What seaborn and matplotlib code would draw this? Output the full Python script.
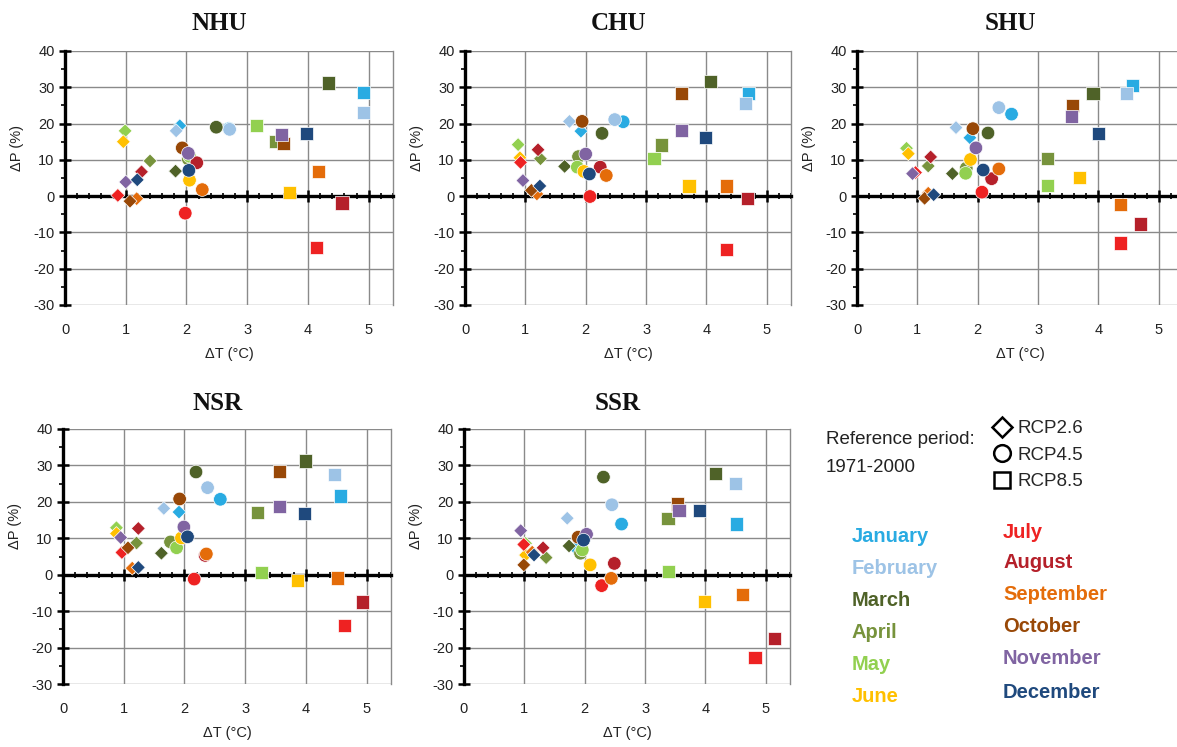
import matplotlib
matplotlib.use("Agg")
import matplotlib.pyplot as plt
import matplotlib.ticker as mticker
from matplotlib.lines import Line2D
import seaborn as sns
import pandas as pd

# ---------------- data ----------------
months = ["January", "February", "March", "April", "May", "June",
          "July", "August", "September", "October", "November", "December"]
month_colors = ["#29ABE2", "#9DC3E6", "#4F6228", "#77933C", "#92D050", "#FFC000",
                "#EE2222", "#B5202A", "#E46C0A", "#984807", "#8064A2", "#1F497D"]
scenarios = ["RCP2.6", "RCP4.5", "RCP8.5"]
regions = ["NHU", "CHU", "SHU", "NSR", "SSR"]

# NHU
NHU_26_dT = [1.89, 1.83, 1.82, 1.40, 0.99, 0.96, 0.87, 1.26, 1.18, 1.07, 1.00, 1.19]
NHU_26_dP = [19.4, 18.0, 6.9, 9.7, 18.0, 15.0, 0.2, 6.7, -0.7, -1.4, 3.9, 4.5]
NHU_45_dT = [2.70, 2.71, 2.49, 2.03, 2.05, 2.05, 1.98, 2.17, 2.26, 1.93, 2.03, 2.04]
NHU_45_dP = [18.6, 18.4, 19.0, 10.2, 11.0, 4.4, -4.7, 9.2, 1.8, 13.3, 11.8, 7.1]
NHU_85_dT = [4.91, 4.91, 4.34, 3.46, 3.15, 3.70, 4.14, 4.56, 4.18, 3.60, 3.57, 3.97]
NHU_85_dP = [28.6, 23.0, 31.2, 15.0, 19.4, 1.1, -14.2, -1.9, 6.7, 14.5, 17.0, 17.2]
# CHU
CHU_26_dT = [1.92, 1.73, 1.65, 1.25, 0.88, 0.91, 0.92, 1.21, 1.19, 1.10, 0.96, 1.24]
CHU_26_dP = [17.9, 20.6, 8.2, 10.3, 14.2, 10.6, 9.3, 12.8, 0.6, 1.6, 4.3, 2.8]
CHU_45_dT = [2.62, 2.48, 2.27, 1.88, 1.86, 1.97, 2.07, 2.24, 2.34, 1.94, 2.00, 2.06]
CHU_45_dP = [20.5, 21.1, 17.3, 10.9, 8.0, 6.8, -0.1, 8.0, 5.7, 20.6, 11.6, 6.1]
CHU_85_dT = [4.70, 4.65, 4.06, 3.25, 3.13, 3.71, 4.33, 4.68, 4.33, 3.59, 3.59, 3.99]
CHU_85_dP = [28.4, 25.6, 31.7, 14.1, 10.3, 2.8, -14.8, -0.6, 2.8, 28.4, 18.1, 16.1]
# SHU
SHU_26_dT = [1.87, 1.64, 1.58, 1.18, 0.82, 0.85, 0.97, 1.22, 1.18, 1.12, 0.92, 1.27]
SHU_26_dP = [16.1, 18.9, 6.2, 8.3, 13.2, 11.7, 6.5, 10.8, 0.8, -0.6, 6.2, 0.4]
SHU_45_dT = [2.56, 2.35, 2.17, 1.81, 1.80, 1.88, 2.07, 2.23, 2.35, 1.92, 1.97, 2.09]
SHU_45_dP = [22.6, 24.4, 17.4, 7.7, 6.3, 10.1, 1.1, 4.8, 7.5, 18.6, 13.3, 7.2]
SHU_85_dT = [4.57, 4.46, 3.91, 3.15, 3.15, 3.69, 4.37, 4.69, 4.37, 3.57, 3.55, 4.00]
SHU_85_dP = [30.6, 28.3, 28.2, 10.3, 2.9, 5.1, -12.9, -7.7, -2.4, 24.9, 22.0, 17.3]
# NSR
NSR_26_dT = [1.91, 1.66, 1.62, 1.21, 0.88, 0.88, 0.97, 1.24, 1.14, 1.07, 0.95, 1.24]
NSR_26_dP = [17.2, 18.2, 5.9, 8.7, 12.9, 11.3, 6.1, 12.7, 1.8, 7.4, 10.2, 2.0]
NSR_45_dT = [2.59, 2.38, 2.19, 1.77, 1.87, 1.95, 2.16, 2.34, 2.36, 1.92, 1.99, 2.05]
NSR_45_dP = [20.7, 23.9, 28.2, 9.0, 7.4, 10.1, -1.2, 5.3, 5.7, 20.8, 13.1, 10.4]
NSR_85_dT = [4.57, 4.47, 3.99, 3.20, 3.27, 3.86, 4.63, 4.93, 4.52, 3.57, 3.57, 3.97]
NSR_85_dP = [21.6, 27.6, 31.2, 17.0, 0.6, -1.7, -13.9, -7.5, -0.9, 28.3, 18.7, 16.8]
# SSR
SSR_26_dT = [1.85, 1.71, 1.74, 1.36, 1.02, 1.02, 0.99, 1.31, 1.13, 0.99, 0.94, 1.16]
SSR_26_dP = [7.2, 15.5, 7.9, 4.7, 8.6, 5.4, 8.3, 7.4, 6.2, 2.7, 12.1, 5.4]
SSR_45_dT = [2.61, 2.45, 2.31, 1.93, 1.96, 2.09, 2.28, 2.49, 2.44, 1.89, 2.03, 1.98]
SSR_45_dP = [13.9, 19.2, 26.8, 5.9, 6.8, 2.7, -3.0, 3.1, -1.0, 10.3, 11.1, 9.5]
SSR_85_dT = [4.52, 4.50, 4.17, 3.38, 3.39, 3.99, 4.82, 5.15, 4.62, 3.53, 3.56, 3.90]
SSR_85_dP = [13.9, 25.1, 27.8, 15.5, 0.8, -7.4, -22.8, -17.5, -5.4, 19.4, 17.6, 17.7]

data_by_region = {
    "NHU": [(NHU_26_dT, NHU_26_dP), (NHU_45_dT, NHU_45_dP), (NHU_85_dT, NHU_85_dP)],
    "CHU": [(CHU_26_dT, CHU_26_dP), (CHU_45_dT, CHU_45_dP), (CHU_85_dT, CHU_85_dP)],
    "SHU": [(SHU_26_dT, SHU_26_dP), (SHU_45_dT, SHU_45_dP), (SHU_85_dT, SHU_85_dP)],
    "NSR": [(NSR_26_dT, NSR_26_dP), (NSR_45_dT, NSR_45_dP), (NSR_85_dT, NSR_85_dP)],
    "SSR": [(SSR_26_dT, SSR_26_dP), (SSR_45_dT, SSR_45_dP), (SSR_85_dT, SSR_85_dP)],
}

x_ticks = [0, 1, 2, 3, 4, 5]
y_ticks = [-30, -20, -10, 0, 10, 20, 30, 40]

# ---------------- style ----------------
sns.set_theme(style="white")
plt.rcParams["font.family"] = ["Liberation Sans", "DejaVu Sans"]
plt.rcParams["axes.unicode_minus"] = False

W, H = 1177, 747
fig = plt.figure(figsize=(W / 100, H / 100), dpi=100)

# axes boxes in pixels: (left, top, right, bottom)
boxes = {
    "NHU": (65, 51, 393, 305),
    "CHU": (465, 51, 791, 305),
    "SHU": (857, 51, 1183, 305),
    "NSR": (63, 429, 391, 684),
    "SSR": (464, 429, 790, 684),
}

palette = dict(zip(months, month_colors))
markers = {"RCP2.6": "D", "RCP4.5": "o", "RCP8.5": "s"}
sizes = {"RCP2.6": 50, "RCP4.5": 95, "RCP8.5": 90}
grid_col = "#8a8a8a"

for reg in regions:
    l, t, r, b = boxes[reg]
    ax = fig.add_axes([l / W, 1 - b / H, (r - l) / W, (b - t) / H])
    rows = []
    for sc, (dts, dps) in zip(scenarios, data_by_region[reg]):
        for m, dt, dp in zip(months, dts, dps):
            rows.append({"month": m, "rcp": sc, "dT": dt, "dP": dp})
    df = pd.DataFrame(rows)
    sns.scatterplot(data=df, x="dT", y="dP", hue="month", style="rcp", size="rcp",
                    palette=palette, markers=markers, sizes=sizes,
                    hue_order=months, style_order=scenarios, size_order=scenarios,
                    edgecolor="white", linewidth=0.5, legend=False, ax=ax, zorder=5,
                    clip_on=False)
    ax.set_xlim(0, 5.4)
    ax.set_ylim(-30, 40)
    ax.set_xticks(x_ticks)
    ax.set_yticks(y_ticks)
    ax.xaxis.set_minor_locator(mticker.MultipleLocator(0.2))
    ax.yaxis.set_minor_locator(mticker.MultipleLocator(5))
    ax.grid(True, which="major", color=grid_col, linewidth=1.0)
    ax.grid(False, which="minor")
    ax.set_axisbelow(True)

    # spines
    ax.spines["top"].set_visible(False)
    ax.spines["right"].set_color(grid_col)
    ax.spines["right"].set_linewidth(1.0)
    ax.spines["left"].set_color("black")
    ax.spines["left"].set_linewidth(2.4)
    ax.spines["left"].set_zorder(6)
    ax.spines["bottom"].set_position(("data", 0))
    ax.spines["bottom"].set_color("black")
    ax.spines["bottom"].set_linewidth(2.4)
    ax.spines["bottom"].set_zorder(4)

    ax.tick_params(axis="x", which="major", direction="inout", length=9, width=1.8,
                   color="black", labelbottom=False, bottom=True)
    ax.tick_params(axis="x", which="minor", direction="inout", length=4, width=1.2,
                   color="black", bottom=True)
    ax.tick_params(axis="y", which="major", direction="inout", length=9, width=1.8,
                   color="black", labelsize=10.5, pad=3, left=True, labelcolor="#222222")
    ax.tick_params(axis="y", which="minor", direction="out", length=3, width=1.2,
                   color="black", left=True)

    sec = ax.secondary_xaxis("bottom")
    sec.set_xticks(x_ticks)
    sec.spines["bottom"].set_visible(False)
    sec.tick_params(axis="x", length=0, pad=13, labelsize=10.5, labelcolor="#222222")

    ax.set_xlabel("ΔT (°C)", fontsize=10.5, color="#222222")
    ax.xaxis.set_label_coords(0.5, -0.165)
    ax.set_ylabel("ΔP (%)", fontsize=10.5, color="#222222")
    ax.yaxis.set_label_coords(-0.125, 0.62)

    ty = 1.11 if t < 100 else 1.10
    ax.text(0.47, ty, reg, transform=ax.transAxes, ha="center", va="center",
            fontsize=18, fontweight="bold", family=["Liberation Serif", "DejaVu Serif"],
            color="#111111")

# ---------------- legend area ----------------
fig.text(826 / W, 1 - 440 / H, "Reference period:", fontsize=13.5, color="#222222",
         ha="left", va="center")
fig.text(826 / W, 1 - 468 / H, "1971-2000", fontsize=13.5, color="#222222",
         ha="left", va="center")

handles = [Line2D([], [], marker=markers[s], linestyle="none", markerfacecolor="none",
                  markeredgecolor="black", markeredgewidth=1.8,
                  markersize=10 if s == "RCP2.6" else 12)
           for s in scenarios]
fig.legend(handles, scenarios, loc="upper left", bbox_to_anchor=(993 / W, 1 - 420 / H),
           frameon=False, fontsize=13.5, handlelength=1.0, handletextpad=0.3,
           labelspacing=0.5, borderpad=0, borderaxespad=0)

left_y = [537, 569, 600, 632, 665, 696]
right_y = [532, 563, 595, 627, 658, 692]
for i, (m, c) in enumerate(zip(months, month_colors)):
    if i < 6:
        x, y = 852, left_y[i]
    else:
        x, y = 1003, right_y[i - 6]
    fig.text(x / W, 1 - y / H, m, color=c, fontsize=14.5, fontweight="bold",
             ha="left", va="center")

fig.savefig("out.png", dpi=100)
